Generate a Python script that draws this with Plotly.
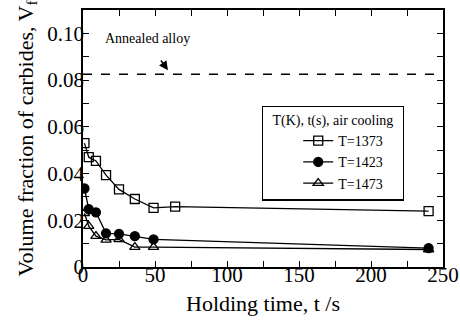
import plotly.graph_objects as go

# Data
t_1373 = [1, 4, 9, 16, 25, 36, 49, 64, 240]
vf_1373 = [0.0530, 0.0470, 0.0454, 0.0393, 0.0332, 0.0291, 0.0253, 0.0258, 0.0239]
t_1423 = [1, 4, 9, 16, 25, 36, 49, 240]
vf_1423 = [0.0336, 0.0248, 0.0234, 0.0144, 0.0142, 0.0132, 0.0118, 0.0081]
t_1473 = [1, 4, 9, 16, 25, 36, 49, 240]
vf_1473 = [0.0230, 0.0175, 0.0132, 0.0116, 0.0118, 0.0085, 0.0085, 0.0075]
annealed_vf = 0.0825

x_tickvals = [0, 25, 50, 75, 100, 125, 150, 175, 200, 225, 250]
x_ticktext = ["0", "", "50", "", "100", "", "150", "", "200", "", "250"]
y_tickvals = [0, 0.01, 0.02, 0.03, 0.04, 0.05, 0.06, 0.07, 0.08, 0.09, 0.10, 0.11]
y_ticktext = ["0", "", "0.02", "", "0.04", "", "0.06", "", "0.08", "", "0.10", ""]

FONT = "Liberation Serif, Times New Roman, serif"
PAD = "&nbsp;" * 4

fig = go.Figure()
series = [
    (t_1373, vf_1373, "T=1373", "square-open"),
    (t_1423, vf_1423, "T=1423", "circle"),
    (t_1473, vf_1473, "T=1473", "triangle-up-open"),
]
for xs, ys, name, sym in series:
    fig.add_trace(go.Scatter(
        x=xs, y=ys, name=name + PAD, mode="lines+markers",
        line=dict(color="black", width=1.3),
        marker=dict(symbol=sym, size=9, color="black",
                    line=dict(color="black", width=1.3)),
    ))

fig.add_shape(type="line", xref="paper", yref="y", x0=0, x1=1,
              y0=annealed_vf, y1=annealed_vf,
              line=dict(color="black", width=1.6, dash="dash"))

fig.add_annotation(x=45, y=0.0979, xref="x", yref="y", text="Annealed alloy",
                   showarrow=False, font=dict(family=FONT, size=14, color="black"))
fig.add_annotation(x=59, y=0.0842, xref="x", yref="y", text=" ",
                   showarrow=True, ax=-10, ay=-14, arrowhead=2, arrowsize=1.2,
                   arrowwidth=1.5, arrowcolor="black")

axis_common = dict(
    showline=True, linecolor="black", linewidth=1.5, mirror="ticks",
    ticks="inside", ticklen=6, tickwidth=1.3, tickcolor="black",
    showgrid=False, zeroline=False, automargin=False,
    tickfont=dict(family=FONT, size=21, color="black"),
)

fig.update_xaxes(range=[0, 250], tickmode="array", tickvals=x_tickvals,
                 ticktext=x_ticktext, ticklabelstandoff=-12,
                 title=dict(text="Holding time, t /s",
                            font=dict(family=FONT, size=22, color="black"),
                            standoff=10),
                 **axis_common)
fig.update_yaxes(range=[0, 0.11], tickmode="array", tickvals=y_tickvals,
                 ticktext=y_ticktext, ticklabelstandoff=-7,
                 title=dict(text="Volume fraction of carbides, V<sub>f</sub>",
                            font=dict(family=FONT, size=22, color="black"),
                            standoff=8),
                 **axis_common)

fig.update_layout(
    width=460, height=326,
    margin=dict(l=83, r=17, t=10, b=59),
    paper_bgcolor="white", plot_bgcolor="white",
    font=dict(family=FONT, color="black"),
    legend=dict(
        x=0.497, y=0.628, xanchor="left", yanchor="top",
        bgcolor="white", bordercolor="black", borderwidth=1.3,
        font=dict(family=FONT, size=14, color="black"),
        title=dict(text="T(K), t(s), air cooling", side="top center",
                   font=dict(family=FONT, size=14, color="black")),
        tracegroupgap=0, indentation=35,
    ),
)

fig.write_html("out.html")
